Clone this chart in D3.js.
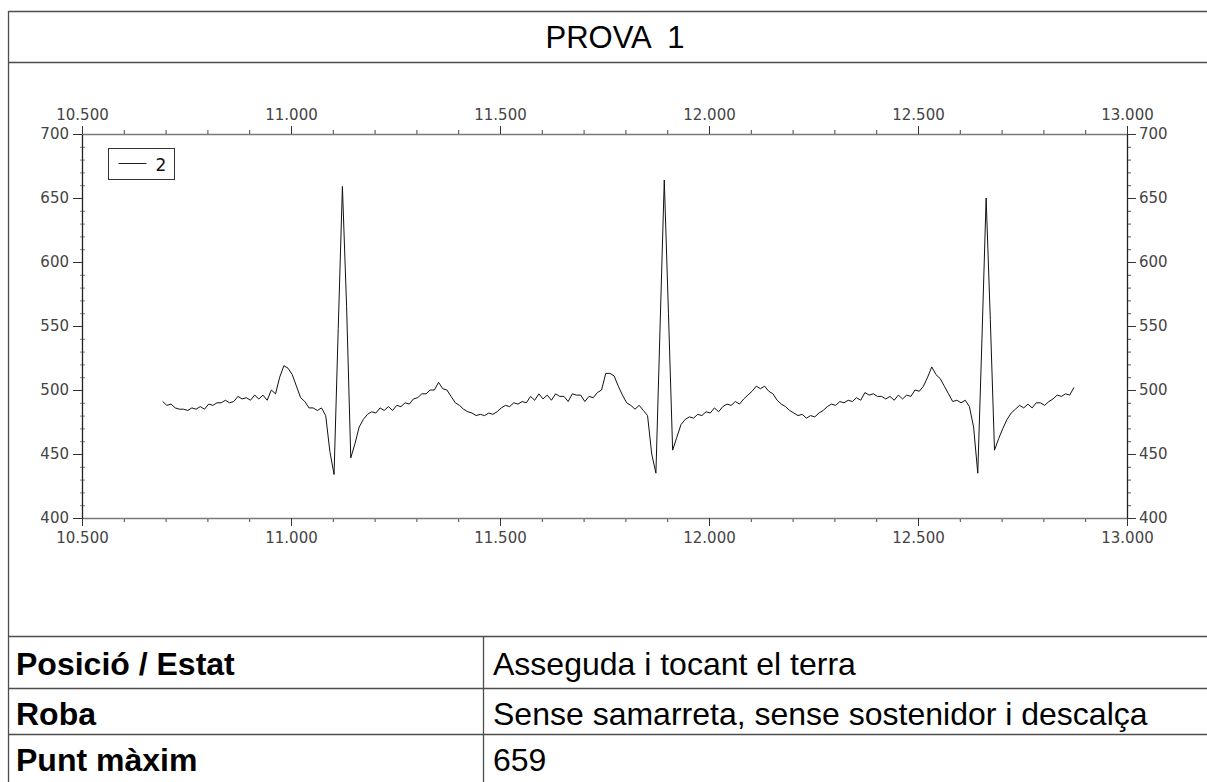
<!DOCTYPE html>
<html>
<head>
<meta charset="utf-8">
<script src="https://cdn.jsdelivr.net/npm/d3@7"></script>
<style>
  html, body { margin: 0; padding: 0; background: #fff; }
  svg { display: block; }
</style>
</head>
<body>
<svg id="chart" width="1207" height="782"></svg>
<script>
// ECG trace of test 1: sampled every 10 ms
const startTime = 10.693;
const sampleStep = 0.01;
const signal = [
  491, 488, 489, 486, 485, 485, 484, 486, 485, 487,
  485, 489, 488, 490, 490, 492, 490, 491, 495, 493,
  494, 492, 496, 493, 496, 492, 500, 497, 510, 519,
  517, 512, 503, 494, 491, 486, 486, 484, 486, 480,
  452, 434, 548, 659, 565, 447, 458, 471, 477, 481,
  483, 482, 486, 484, 487, 484, 488, 487, 490, 489,
  493, 494, 497, 497, 500, 500, 506, 501, 500, 495,
  490, 488, 485, 483, 482, 480, 481, 480, 482, 481,
  483, 486, 488, 487, 490, 489, 491, 490, 495, 492,
  497, 493, 496, 492, 497, 495, 495, 491, 497, 496,
  496, 491, 495, 494, 498, 500, 513, 513, 511, 503,
  496, 490, 488, 485, 488, 484, 480, 450, 435, 550,
  664, 560, 453, 463, 473, 477, 479, 478, 481, 480,
  483, 482, 486, 483, 487, 489, 488, 491, 489, 493,
  496, 499, 503, 501, 503, 499, 497, 492, 489, 487,
  484, 482, 480, 481, 478, 480, 479, 482, 484, 487,
  489, 488, 491, 490, 492, 491, 494, 492, 498, 496,
  497, 495, 495, 493, 495, 492, 496, 493, 496, 495,
  500, 499, 503, 510, 518, 512, 509, 503, 497, 491,
  492, 490, 492, 487, 471, 435, 540, 650, 555, 453,
  462, 470, 477, 482, 485, 488, 486, 489, 486, 490,
  490, 488, 491, 493, 496, 495, 497, 496, 502
];

// Axis ticks
const xMajorTicks = [10.5, 11.0, 11.5, 12.0, 12.5, 13.0];
const yMajorTicks = [400, 450, 500, 550, 600, 650, 700];
const seriesName = "2";

// Information table under the chart
const tableLabels = ["Posició / Estat", "Roba", "Punt màxim"];
const tableValues = ["Asseguda i tocant el terra", "Sense samarreta, sense sostenidor i descalça", "659"];
const chartTitle = "PROVA  1";

const points = signal.map((v, i) => ({ t: startTime + i * sampleStep, v }));

const svg = d3.select("#chart");
const W = 1207, H = 782;
const edgeL = 8.5;
const rule = "#4d4d4d";

// Page frame: left edge, top edge, title divider
const frame = svg.append("g").attr("stroke", rule).attr("stroke-width", 1.3).attr("fill", "none");
frame.append("line").attr("x1", edgeL).attr("x2", edgeL).attr("y1", 11).attr("y2", H);
frame.append("line").attr("x1", edgeL).attr("x2", W).attr("y1", 11.5).attr("y2", 11.5);
frame.append("line").attr("x1", edgeL).attr("x2", W).attr("y1", 62.5).attr("y2", 62.5);

svg.append("text")
  .attr("x", 615).attr("y", 47.5)
  .attr("text-anchor", "middle")
  .attr("font-family", "Liberation Sans, Arial, sans-serif")
  .attr("font-size", 31)
  .style("white-space", "pre")
  .attr("fill", "#000")
  .text(chartTitle);

// Plot area
const plotL = 82, plotR = 1127, plotT = 134, plotB = 518;
const x = d3.scaleLinear().domain([10.5, 13.0]).range([plotL, plotR]);
const y = d3.scaleLinear().domain([400, 700]).range([plotB, plotT]);

const xMinorTicks = d3.range(105, 131).map(d => d / 10).filter(d => !xMajorTicks.some(m => Math.abs(m - d) < 1e-9));
const yMinorTicks = d3.range(400, 701, 10).filter(d => d % 50 !== 0);

const fmtX = d3.format(".3f");
const labelFont = "DejaVu Sans, Verdana, sans-serif";

function styleAxis(g, color) {
  g.select(".domain").attr("stroke", color).attr("stroke-width", 1.3);
  g.selectAll(".tick line").attr("stroke", "#333");
  g.selectAll(".tick text").attr("fill", "#444").attr("font-family", labelFont).attr("font-size", 15);
}

// minor ticks
svg.append("g").attr("transform", `translate(0,${plotT})`)
  .call(d3.axisTop(x).tickValues(xMinorTicks).tickSize(4).tickFormat(""))
  .call(g => { g.select(".domain").remove(); g.selectAll("line").attr("stroke", "#444"); });
svg.append("g").attr("transform", `translate(0,${plotB})`)
  .call(d3.axisBottom(x).tickValues(xMinorTicks).tickSize(4).tickFormat(""))
  .call(g => { g.select(".domain").remove(); g.selectAll("line").attr("stroke", "#444"); });
svg.append("g").attr("transform", `translate(${plotL + 3},0)`)
  .call(d3.axisLeft(y).tickValues(yMinorTicks).tickSize(5).tickFormat(""))
  .call(g => { g.select(".domain").remove(); g.selectAll("line").attr("stroke", "#888"); });
svg.append("g").attr("transform", `translate(${plotR},0)`)
  .call(d3.axisRight(y).tickValues(yMinorTicks).tickSize(4).tickFormat(""))
  .call(g => { g.select(".domain").remove(); g.selectAll("line").attr("stroke", "#555"); });

// major axes
svg.append("g").attr("transform", `translate(0,${plotT})`)
  .call(d3.axisTop(x).tickValues(xMajorTicks).tickSize(8).tickSizeOuter(0).tickPadding(6).tickFormat(fmtX))
  .call(g => styleAxis(g, "#7a7a7a"));
svg.append("g").attr("transform", `translate(0,${plotB})`)
  .call(d3.axisBottom(x).tickValues(xMajorTicks).tickSize(8).tickSizeOuter(0).tickPadding(6).tickFormat(fmtX))
  .call(g => styleAxis(g, "#7a7a7a"));
svg.append("g").attr("transform", `translate(${plotL},0)`)
  .call(d3.axisLeft(y).tickValues(yMajorTicks).tickSize(9).tickSizeOuter(0).tickPadding(4))
  .call(g => styleAxis(g, "#222"));
svg.append("g").attr("transform", `translate(${plotR},0)`)
  .call(d3.axisRight(y).tickValues(yMajorTicks).tickSize(9).tickSizeOuter(0).tickPadding(3))
  .call(g => styleAxis(g, "#222"));

// trace
const line = d3.line().x(d => x(d.t)).y(d => y(d.v));
svg.append("path")
  .datum(points)
  .attr("fill", "none")
  .attr("stroke", "#111")
  .attr("stroke-width", 1)
  .attr("stroke-linejoin", "round")
  .attr("d", line);

// legend
const legend = svg.append("g").attr("transform", "translate(108.5,148.5)");
legend.append("rect").attr("width", 66).attr("height", 31).attr("fill", "#fff").attr("stroke", "#333");
legend.append("line").attr("x1", 10).attr("x2", 38).attr("y1", 15).attr("y2", 15).attr("stroke", "#222");
legend.append("text").attr("x", 47).attr("y", 22)
  .attr("font-family", labelFont).attr("font-size", 17).attr("fill", "#111").text(seriesName);

// table
const rowLines = [636, 688, 734];
const rowBaselines = [675, 725, 771];
const colSplit = 483.5;
const table = svg.append("g");
rowLines.forEach(yy => table.append("line")
  .attr("x1", edgeL).attr("x2", W).attr("y1", yy + 0.5).attr("y2", yy + 0.5)
  .attr("stroke", rule).attr("stroke-width", 1.3));
table.append("line").attr("x1", colSplit).attr("x2", colSplit)
  .attr("y1", rowLines[0]).attr("y2", H).attr("stroke", rule).attr("stroke-width", 1.3);
tableLabels.forEach((lab, i) => {
  table.append("text").attr("x", 16).attr("y", rowBaselines[i])
    .attr("font-family", "Liberation Sans, Arial, sans-serif").attr("font-weight", "bold")
    .attr("font-size", 32).attr("fill", "#000").text(lab);
  table.append("text").attr("x", 493).attr("y", rowBaselines[i])
    .attr("font-family", "Liberation Sans, Arial, sans-serif")
    .attr("font-size", 32).attr("fill", "#000").text(tableValues[i]);
});
</script>
</body>
</html>
